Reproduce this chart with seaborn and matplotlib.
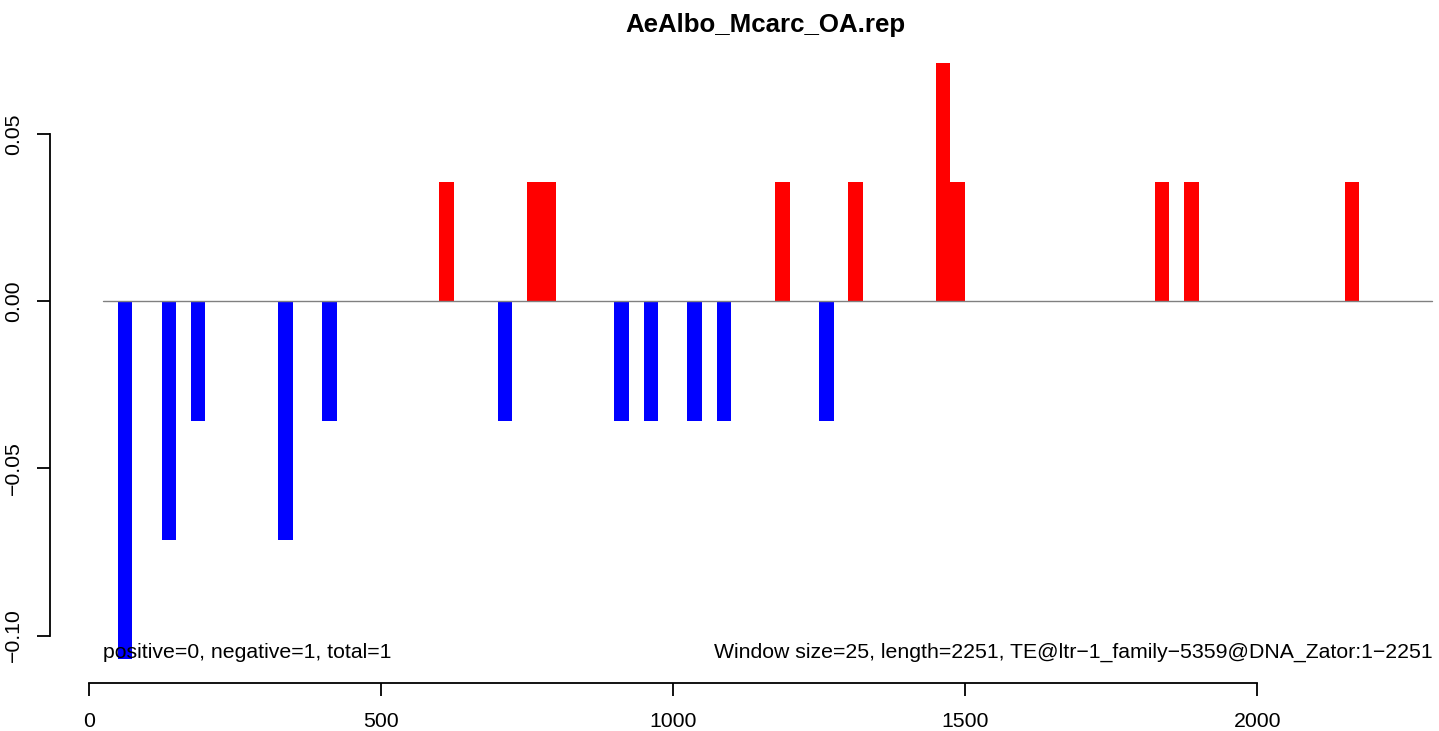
import seaborn as sns
import pandas as pd
from matplotlib import pyplot as plt

# window starts (bp) and per-window score
window_size = 25
win_start = [50, 125, 175, 325, 400, 600, 700, 750, 775, 900, 950,
             1025, 1075, 1175, 1250, 1300, 1450, 1475, 1825, 1875, 2150]
score = [-0.1071, -0.0714, -0.0357, -0.0714, -0.0357, 0.0357, -0.0357,
         0.0357, 0.0357, -0.0357, -0.0357, -0.0357, -0.0357, 0.0357,
         -0.0357, 0.0357, 0.0714, 0.0357, 0.0357, 0.0357, 0.0357]

x_ticks = [0, 500, 1000, 1500, 2000]
y_ticks = [-0.10, -0.05, 0.00, 0.05]
y_tick_labels = ['\u22120.10', '\u22120.05', '0.00', '0.05']

title = 'AeAlbo_Mcarc_OA.rep'
left_note = 'positive=0, negative=1, total=1'
right_note = ('Window size=25, length=2251, '
              'TE@ltr\u22121_family\u22125359@DNA_Zator:1\u22122251')

sns.set_style('white')
plt.rcParams['font.family'] = ['Liberation Sans', 'DejaVu Sans']
plt.rcParams['text.color'] = 'black'

df = pd.DataFrame({
    'pos': [s + window_size / 2 for s in win_start],
    'score': score,
})
df['sign'] = ['pos' if v > 0 else 'neg' for v in score]

fig = plt.figure(figsize=(14.39, 7.31), dpi=100)
ax = fig.add_axes([50 / 1439, 47.6 / 731, 1435.6 / 1439, 644.9 / 731])

sns.barplot(data=df, x='pos', y='score', hue='sign',
            palette={'pos': '#ff0000', 'neg': '#0000ff'},
            native_scale=True, dodge=False, width=1.0, saturation=1,
            errorbar=None, linewidth=0, legend=False, ax=ax)

ax.plot([25, 2300], [0, 0], color='#808080', lw=1.0, zorder=5)

ax.set_xlim(-66, 2391)
ax.set_ylim(-0.1143, 0.0786)
ax.set_xlabel('')
ax.set_ylabel('')

ax.set_xticks(x_ticks)
ax.set_xticklabels([str(t) for t in x_ticks])
ax.set_yticks(y_ticks)
ax.set_yticklabels(y_tick_labels, rotation=90, va='center')

for side in ('top', 'right'):
    ax.spines[side].set_visible(False)
ax.spines['bottom'].set_bounds(0, 2000)
ax.spines['left'].set_bounds(-0.10, 0.05)
for side in ('bottom', 'left'):
    ax.spines[side].set_linewidth(1.3)
    ax.spines[side].set_color('black')

ax.tick_params(axis='both', direction='out', length=9.4, width=1.3,
               labelsize=15.3, colors='black', left=True, bottom=True)
ax.tick_params(axis='x', pad=11.5)
ax.tick_params(axis='y', pad=10)

ax.text(25, -0.105, left_note, ha='left', va='center', fontsize=15.3)
ax.text(2300, -0.105, right_note, ha='right', va='center', fontsize=15.3)

fig.text(765 / 1439, 1 - 31.7 / 731, title, ha='center', va='baseline',
         fontsize=18.6, fontweight='bold')

fig.savefig('out.png', dpi=100)
plt.close(fig)
